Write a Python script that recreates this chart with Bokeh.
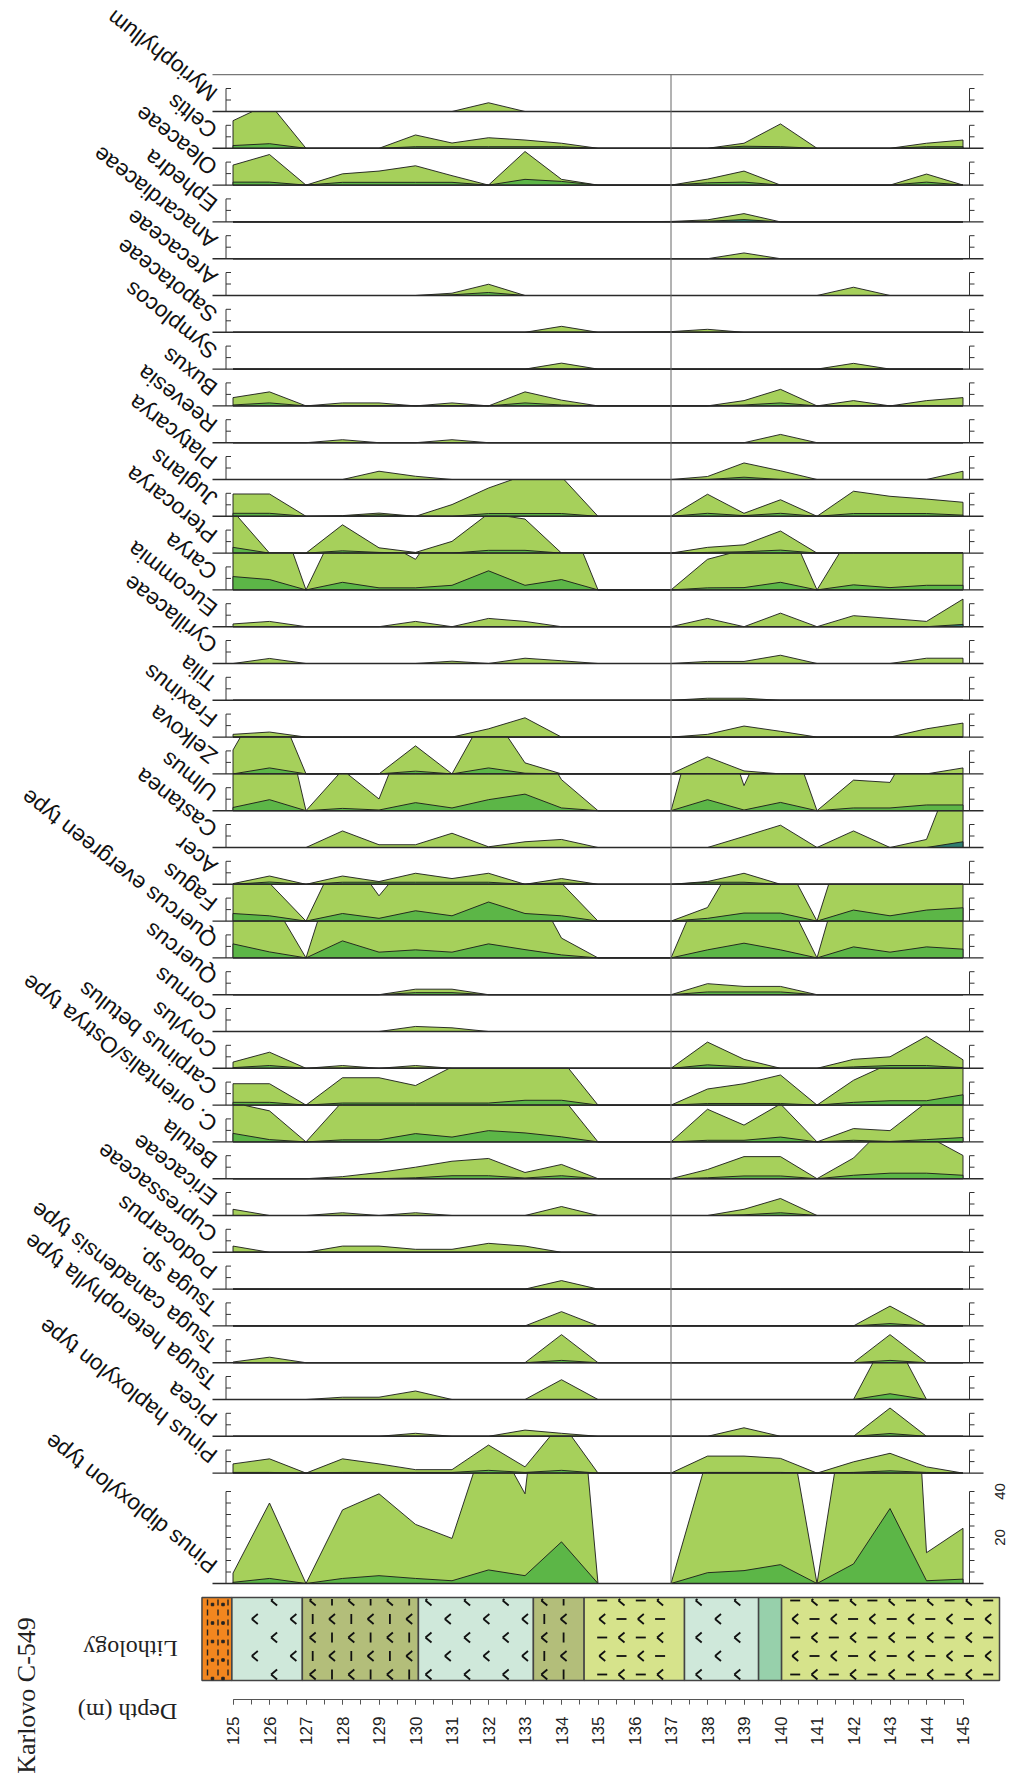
import numpy as np
from bokeh.plotting import figure
from bokeh.models import Range1d, SingleIntervalTicker, ColumnDataSource, Label
from bokeh.embed import file_html
from bokeh.resources import INLINE
from bokeh.core.properties import value

# ---------------- data ----------------
depths = [125, 126, 127, 128, 129, 130, 131, 132, 133, 134, 135,
          137, 138, 139, 140, 141, 142, 143, 144, 145]

taxa = ["Myriophyllum", "Celtis", "Oleaceae", "Ephedra", "Anacardiaceae", "Arecaceae",
        "Sapotaceae", "Symplocos", "Buxus", "Reevesia", "Platycarya", "Juglans",
        "Pterocarya", "Carya", "Eucommia", "Cyrillaceae", "Tilia", "Fraxinus", "Zelkova",
        "Ulmus", "Castanea", "Acer", "Fagus", "Quercus evergreen type", "Quercus",
        "Cornus", "Corylus", "Carpinus betulus", "C. orientalis/Ostrya type", "Betula",
        "Ericaceae", "Cupressaceae", "Podocarpus", "Tsuga sp.", "Tsuga canadensis type",
        "Tsuga heterophylla type", "Picea", "Pinus haploxylon type", "Pinus diploxylon type"]

# light = exaggerated curve, dark = percentage curve (%)
myriophyllum_light = [0, 0, 0, 0, 0, 0, 0, 3.8, 0, 0, 0, 0, 0, 0, 0, 0, 0, 0, 0, 0]
myriophyllum_dark = [0, 0, 0, 0, 0, 0, 0, 0, 0, 0, 0, 0, 0, 0, 0, 0, 0, 0, 0, 0]
celtis_light = [12.0, 19.5, 0, 0, 0, 5.8, 2.3, 4.6, 3.6, 2.2, 0, 0, 0, 2.2, 10.6, 0, 0, 0, 2.2, 3.6]
celtis_dark = [1.2, 2.0, 0, 0, 0, 0.7, 0.7, 0.7, 0.7, 0.7, 0, 0, 0, 0.9, 0.7, 0, 0, 0, 0.7, 0.7]
oleaceae_light = [8.7, 13.3, 0, 4.9, 6.1, 8.4, 4.1, 0, 14.6, 2.5, 0, 0, 2.6, 6.1, 0, 0, 0, 0, 4.8, 0]
oleaceae_dark = [1.3, 1.3, 0, 1.2, 1.2, 1.2, 1.2, 0, 2.5, 1.6, 0, 0, 1.0, 1.3, 0, 0, 0, 0, 1.3, 0]
ephedra_light = [0, 0, 0, 0, 0, 0, 0, 0, 0, 0, 0, 0.2, 0.9, 3.6, 0, 0, 0, 0, 0, 0]
ephedra_dark = [0, 0, 0, 0, 0, 0, 0, 0, 0, 0, 0, 0, 0.3, 1.0, 0, 0, 0, 0, 0, 0]
anacardiaceae_light = [0, 0, 0, 0, 0, 0, 0, 0, 0, 0, 0, 0, 0, 2.5, 0, 0, 0, 0, 0, 0]
anacardiaceae_dark = [0, 0, 0, 0, 0, 0, 0, 0, 0, 0, 0, 0, 0, 0, 0, 0, 0, 0, 0, 0]
arecaceae_light = [0, 0, 0, 0, 0, 0, 1.0, 4.9, 0, 0, 0, 0, 0, 0, 0, 0, 3.6, 0, 0, 0]
arecaceae_dark = [0, 0, 0, 0, 0, 0, 0.3, 1.3, 0, 0, 0, 0, 0, 0, 0, 0, 0, 0, 0, 0]
sapotaceae_light = [0, 0, 0, 0, 0, 0, 0, 0, 0, 2.6, 0, 0.3, 1.3, 0, 0, 0, 0, 0, 0, 0]
sapotaceae_dark = [0, 0, 0, 0, 0, 0, 0, 0, 0, 0, 0, 0, 0, 0, 0, 0, 0, 0, 0, 0]
symplocos_light = [0, 0, 0, 0, 0, 0, 0, 0, 0, 2.6, 0, 0, 0, 0, 0, 0, 2.5, 0, 0, 0]
symplocos_dark = [0, 0, 0, 0, 0, 0, 0, 0, 0, 0, 0, 0, 0, 0, 0, 0, 0, 0, 0, 0]
buxus_light = [3.6, 6.1, 0, 1.3, 1.3, 0, 1.3, 0, 6.1, 2.5, 0, 0, 0, 2.3, 7.2, 0, 2.3, 0, 2.3, 3.6]
buxus_dark = [0.4, 1.3, 0, 0, 0, 0, 0, 0, 1.3, 0.4, 0, 0, 0, 0.4, 1.3, 0, 0, 0, 0, 0]
reevesia_light = [0, 0, 0, 1.3, 0, 0, 1.3, 0, 0, 0, 0, 0, 0, 0, 3.6, 0, 0, 0, 0, 0]
reevesia_dark = [0, 0, 0, 0, 0, 0, 0, 0, 0, 0, 0, 0, 0, 0, 0, 0, 0, 0, 0, 0]
platycarya_light = [0, 0, 0, 0, 3.6, 1.4, 0, 0, 0, 0, 0, 0, 1.3, 7.2, 3.8, 0, 0, 0, 0, 3.6]
platycarya_dark = [0, 0, 0, 0, 0, 0, 0, 0, 0, 0, 0, 0, 0, 1.0, 0, 0, 0, 0, 0, 0]
juglans_light = [9.7, 9.7, 0, 0.3, 1.4, 0, 5.1, 12.3, 17.9, 17.2, 0, 0, 9.6, 1.3, 7.2, 0, 10.9, 8.7, 7.5, 6.1]
juglans_dark = [1.3, 1.3, 0, 0, 0.7, 0, 0, 1.2, 1.2, 1.2, 0, 0, 1.3, 0.3, 1.3, 0, 1.2, 1.2, 1.2, 0.5]
pterocarya_light = [18.2, 0, 0, 12.3, 2.3, 0.3, 5.1, 17.2, 14.8, 0, 0, 0, 2.5, 3.6, 9.6, 0, 0, 0, 0, 0]
pterocarya_dark = [2.5, 0, 0, 1.0, 0.3, 0, 0, 1.2, 1.2, 0, 0, 0, 0.3, 0.6, 1.3, 0, 0, 0, 0, 0]
carya_light = [25, 45, 0, 33, 22, 13.3, 36, 40, 40, 39, 0, 0, 13.3, 17.5, 36, 0, 26, 30, 30, 30]
carya_dark = [5.8, 4.5, 0, 3.3, 0.9, 0.9, 2.0, 8.3, 2.0, 4.5, 0, 0, 0.9, 1.0, 3.3, 0, 2.2, 1.0, 2.0, 2.0]
eucommia_light = [1.2, 2.3, 0, 0, 0, 2.3, 0, 3.6, 2.3, 0, 0, 0, 3.6, 0, 5.9, 0, 4.8, 3.6, 2.3, 12.0]
eucommia_dark = [0, 0, 0, 0, 0, 0, 0, 0, 0, 0, 0, 0, 0, 0, 0, 0, 0, 0, 0, 1.0]
cyrillaceae_light = [0, 2.2, 0, 0, 0, 0, 1.0, 0, 2.3, 1.2, 0, 0, 0.9, 0.9, 3.6, 0, 0, 0, 2.3, 2.3]
cyrillaceae_dark = [0, 0, 0, 0, 0, 0, 0, 0, 0, 0, 0, 0, 0, 0, 0, 0, 0, 0, 0, 0]
tilia_light = [0, 0, 0, 0, 0, 0, 0, 0, 0, 0, 0, 0, 0.9, 0.9, 0, 0, 0, 0, 0, 0]
tilia_dark = [0, 0, 0, 0, 0, 0, 0, 0, 0, 0, 0, 0, 0, 0, 0, 0, 0, 0, 0, 0]
fraxinus_light = [1.2, 2.2, 0, 0, 0, 0, 0, 3.6, 8.4, 0, 0, 0, 1.2, 4.8, 2.5, 0, 0, 0, 3.6, 6.1]
fraxinus_dark = [0, 0, 0, 0, 0, 0, 0, 0, 0, 0, 0, 0, 0, 0, 0, 0, 0, 0, 0, 0]
zelkova_light = [10.4, 38, 0, 0, 0, 12.2, 0, 28.5, 4.8, 0, 0, 0, 7.4, 1.3, 0, 0, 0, 0, 0, 2.6]
zelkova_dark = [0, 2.6, 0, 0, 0, 1.2, 0, 2.6, 0.3, 0, 0, 0, 0, 0, 0, 0, 0, 0, 0, 0]
ulmus_light = [30, 68, 0, 17.7, 5.1, 45, 40, 40, 40, 13.5, 0, 0, 58, 10.9, 45, 0, 13.3, 12.3, 40, 40]
ulmus_dark = [1.4, 4.8, 0, 1.0, 0.3, 3.5, 1.2, 4.8, 7.2, 1.2, 0, 0, 4.8, 0.3, 3.6, 0, 1.2, 1.2, 2.5, 2.5]
castanea_light = [0, 0, 0, 7.2, 1.2, 1.2, 6.2, 0.3, 2.5, 3.5, 0, 0, 0, 4.8, 9.7, 0, 7.2, 0, 3.5, 44]
castanea_dark = [0, 0, 0, 0, 0, 0, 0, 0, 0, 0, 0, 0, 0, 0, 0, 0, 0, 0, 0, 2.5]
acer_light = [0.3, 3.6, 0, 3.6, 1.2, 4.8, 2.5, 4.8, 0, 2.5, 0, 0, 1.2, 4.8, 0, 0, 0, 0, 0, 0]
acer_dark = [0, 1.0, 0, 0.9, 0.9, 0.9, 0.9, 0.9, 0, 0.7, 0, 0, 0.9, 0.9, 0, 0, 0, 0, 0, 0]
fagus_light = [20, 16.5, 0, 33, 11, 30, 30, 30, 30, 16.5, 0, 0, 5.9, 33, 30, 0, 50, 40, 40, 40]
fagus_dark = [3.3, 2.3, 0, 3.3, 1.2, 4.5, 2.3, 8.3, 3.3, 2.3, 0, 0, 1.2, 3.5, 3.5, 0, 4.8, 2.3, 4.8, 5.8]
quercus_evergreen_light = [30, 27, 0, 50, 35, 35, 35, 35, 38, 8.6, 0, 0, 37, 35, 32, 0, 55, 40, 40, 40]
quercus_evergreen_dark = [6.1, 2.6, 0, 7.4, 2.5, 3.5, 2.5, 6.1, 3.6, 1.3, 0, 0, 3.5, 6.4, 3.5, 0, 4.8, 2.5, 4.8, 3.8]
quercus_light = [0, 0, 0, 0, 0, 2.4, 2.4, 0, 0, 0, 0, 0, 4.8, 3.6, 3.6, 0, 0, 0, 0, 0]
quercus_dark = [0, 0, 0, 0, 0, 0.9, 0.9, 0, 0, 0, 0, 0, 1.2, 1.2, 1.2, 0, 0, 0, 0, 0]
cornus_light = [0, 0, 0, 0, 0, 2.2, 1.6, 0, 0, 0, 0, 0, 0, 0, 0, 0, 0, 0, 0, 0]
cornus_dark = [0, 0, 0, 0, 0, 0, 0, 0, 0, 0, 0, 0, 0, 0, 0, 0, 0, 0, 0, 0]
corylus_light = [2.7, 7.0, 0, 1.2, 0, 1.2, 0, 0, 0, 0, 0, 0, 11.4, 3.9, 0, 0, 3.9, 5.0, 13.9, 3.7]
corylus_dark = [0.3, 1.2, 0, 0, 0, 0, 0, 0, 0, 0, 0, 0, 1.5, 0.6, 0, 0, 0.6, 1.2, 1.2, 0.3]
carpinus_betulus_light = [9.3, 9.3, 0, 11.9, 11.9, 8.5, 16.6, 20, 20, 19.8, 0, 0, 7.0, 9.3, 13.1, 0, 10.8, 18.1, 20, 20]
carpinus_betulus_dark = [1.2, 1.2, 0, 0.9, 0.9, 0.9, 0.9, 0.9, 2.1, 2.1, 0, 0, 0.7, 0.7, 0.7, 0, 1.2, 1.9, 1.9, 4.5]
c_orientalis_light = [17, 13.5, 0, 17.6, 25, 25, 25, 25, 25, 19.8, 0, 0, 14.2, 7.3, 16.5, 0, 5.8, 4.9, 17.2, 18]
c_orientalis_dark = [3.7, 1.0, 0, 0.9, 0.9, 3.6, 2.1, 4.9, 3.9, 2.2, 0, 0, 0.7, 0.7, 2.1, 0, 0.7, 0.2, 1.0, 1.9]
betula_light = [0, 0, 0, 0.9, 2.7, 5.0, 7.6, 8.8, 2.7, 6.2, 0, 0, 4.0, 9.6, 9.6, 0, 9.0, 25, 18.7, 10.1]
betula_dark = [0, 0, 0, 0, 0, 0.4, 1.3, 1.3, 0.3, 1.3, 0, 0, 0.4, 1.2, 1.2, 0, 1.5, 2.4, 2.4, 1.5]
ericaceae_light = [2.7, 0, 0, 1.2, 0, 1.2, 0, 0, 0, 3.9, 0, 0, 0, 2.7, 7.4, 0, 0, 0, 0, 0]
ericaceae_dark = [0, 0, 0, 0, 0, 0, 0, 0, 0, 0, 0, 0, 0, 0.3, 1.2, 0, 0, 0, 0, 0]
cupressaceae_light = [2.7, 0, 0, 2.7, 2.7, 1.3, 1.3, 3.9, 2.7, 0, 0, 0, 0, 0, 0, 0, 0, 0, 0, 0]
cupressaceae_dark = [0, 0, 0, 0, 0, 0, 0, 0, 0, 0, 0, 0, 0, 0, 0, 0, 0, 0, 0, 0]
podocarpus_light = [0, 0, 0, 0, 0, 0, 0, 0, 0, 3.7, 0, 0, 0, 0, 0, 0, 0, 0, 0, 0]
podocarpus_dark = [0, 0, 0, 0, 0, 0, 0, 0, 0, 0, 0, 0, 0, 0, 0, 0, 0, 0, 0, 0]
tsuga_sp_light = [0, 0, 0, 0, 0, 0, 0, 0, 0, 6.2, 0, 0, 0, 0, 0, 0, 0, 8.6, 0, 0]
tsuga_sp_dark = [0, 0, 0, 0, 0, 0, 0, 0, 0, 0, 0, 0, 0, 0, 0, 0, 0, 1.0, 0, 0]
tsuga_canadensis_light = [0.3, 2.4, 0, 0, 0, 0, 0, 0, 0, 12.2, 0, 0, 0, 0, 0, 0, 0, 12.2, 0, 0]
tsuga_canadensis_dark = [0, 0, 0, 0, 0, 0, 0, 0, 0, 1.0, 0, 0, 0, 0, 0, 0, 0, 1.0, 0, 0]
tsuga_heterophylla_light = [0, 0, 0, 1.0, 1.0, 3.7, 0, 0, 0, 8.6, 0, 0, 0, 0, 0, 0, 0, 30, 0, 0]
tsuga_heterophylla_dark = [0, 0, 0, 0, 0, 0, 0, 0, 0, 0, 0, 0, 0, 0, 0, 0, 0, 2.5, 0, 0]
picea_light = [0, 0, 0, 0, 0, 1.3, 0, 0, 2.7, 1.3, 0, 0, 0, 3.7, 0, 0, 0, 12.3, 0, 0]
picea_dark = [0, 0, 0, 0, 0, 0, 0, 0, 0, 0, 0, 0, 0, 0, 0, 0, 0, 1.2, 0, 0]
pinus_haploxylon_light = [4.0, 6.2, 0, 6.2, 4.0, 1.5, 1.5, 12.2, 2.7, 22, 0, 0, 7.4, 7.4, 6.4, 0, 4.9, 8.6, 2.7, 0]
pinus_haploxylon_dark = [0.3, 0.3, 0, 0.3, 0.3, 0.3, 0.3, 1.2, 0.3, 1.2, 0, 0, 0.3, 0.3, 0.3, 0, 0.3, 1.0, 0.3, 0]
pinus_diploxylon_light = [4.5, 35, 0, 32, 39, 25.7, 19.6, 68, 39, 176, 0, 0, 55, 70, 90, 0, 100, 280, 13.4, 24.0]
pinus_diploxylon_dark = [0.5, 2.2, 0, 2.2, 3.4, 2.2, 1.2, 5.9, 3.4, 18.1, 0, 0, 4.7, 5.6, 8.2, 0, 8.5, 32.6, 1.2, 1.9]

light_series = [myriophyllum_light, celtis_light, oleaceae_light, ephedra_light, anacardiaceae_light,
                arecaceae_light, sapotaceae_light, symplocos_light, buxus_light, reevesia_light,
                platycarya_light, juglans_light, pterocarya_light, carya_light, eucommia_light,
                cyrillaceae_light, tilia_light, fraxinus_light, zelkova_light, ulmus_light,
                castanea_light, acer_light, fagus_light, quercus_evergreen_light, quercus_light,
                cornus_light, corylus_light, carpinus_betulus_light, c_orientalis_light, betula_light,
                ericaceae_light, cupressaceae_light, podocarpus_light, tsuga_sp_light,
                tsuga_canadensis_light, tsuga_heterophylla_light, picea_light,
                pinus_haploxylon_light, pinus_diploxylon_light]
dark_series = [myriophyllum_dark, celtis_dark, oleaceae_dark, ephedra_dark, anacardiaceae_dark,
               arecaceae_dark, sapotaceae_dark, symplocos_dark, buxus_dark, reevesia_dark,
               platycarya_dark, juglans_dark, pterocarya_dark, carya_dark, eucommia_dark,
               cyrillaceae_dark, tilia_dark, fraxinus_dark, zelkova_dark, ulmus_dark,
               castanea_dark, acer_dark, fagus_dark, quercus_evergreen_dark, quercus_dark,
               cornus_dark, corylus_dark, carpinus_betulus_dark, c_orientalis_dark, betula_dark,
               ericaceae_dark, cupressaceae_dark, podocarpus_dark, tsuga_sp_dark,
               tsuga_canadensis_dark, tsuga_heterophylla_dark, picea_dark,
               pinus_haploxylon_dark, pinus_diploxylon_dark]
teal_dark_taxa = ["Ephedra", "Eucommia", "Castanea"]

# lithology units (depth boundaries, m)
lith_bounds = [124.15, 124.97, 126.9, 130.08, 133.23, 134.62, 137.37, 139.4, 140.03, 146.0]
lith_kind = ["orange", "teal", "olive", "teal", "olive", "yellow", "teal", "green", "yellow"]
lith_colors = {"orange": "#f2861f", "teal": "#cfe8da", "olive": "#b3be7a",
               "yellow": "#d6e38b", "green": "#97d0ab"}

LIGHT = "#a6d05b"
DARK = "#5cb647"
TEAL = "#2e7e70"

# ---------------- layout helpers (page px -> data) ----------------
def dx(px):
    return 125 + (px - 232.5) / 36.5

def dy(py):
    return (1583 - py) / 2.3

W, H = 1009, 1779
p = figure(width=W, height=H, x_range=Range1d(dx(0), dx(W)),
           y_range=Range1d(dy(H), dy(0)),
           output_backend="svg", toolbar_location=None, title=None,
           y_axis_location=None, x_axis_location="below",
           min_border_left=0, min_border_right=0, min_border_top=0, min_border_bottom=0)
p.grid.visible = False
p.outline_line_color = None
p.background_fill_color = "white"
p.border_fill_color = "white"

n = len(taxa)
base = [640 - 16 * k for k in range(n - 1)] + [0]
cap = [16] * (n - 1) + [48]


def clip_curve(xs, ys, c):
    ox, oy = [xs[0]], [min(ys[0], c)]
    for i in range(1, len(xs)):
        x0, y0, x1, y1 = xs[i - 1], ys[i - 1], xs[i], ys[i]
        if (y0 - c) * (y1 - c) < 0:
            t = (c - y0) / (y1 - y0)
            ox.append(x0 + t * (x1 - x0))
            oy.append(c)
        ox.append(x1)
        oy.append(min(y1, c))
    return ox, oy


pxs, pys, pcol = [], [], []
for k in range(n):
    for ser, col in ((light_series[k], LIGHT),
                     (dark_series[k], TEAL if taxa[k] in teal_dark_taxa else DARK)):
        ox, oy = clip_curve(depths, ser, cap[k])
        pxs.append([depths[0]] + ox + [depths[-1]])
        pys.append([base[k]] + [v + base[k] for v in oy] + [base[k]])
        pcol.append(col)
p.patches(pxs, pys, fill_color=pcol, line_color="#1a1a1a", line_width=0.9)

# baselines, top line, section divider
p.segment(x0=[dx(212)] * n, y0=base, x1=[dx(983)] * n, y1=base, line_color="#2a2a2a", line_width=1.4)
p.segment(x0=[dx(212)], y0=[656], x1=[dx(983)], y1=[656], line_color="#777", line_width=1.2)
p.segment(x0=[137], y0=[0], x1=[137], y1=[656], line_color="#666", line_width=1)

# mini axes per panel
axl, axl_t, axr, axr_t = dx(225.5), dx(230.5), dx(969), dx(974)
sx0, sy0, sx1, sy1 = [], [], [], []
for k in range(n):
    top = 10 if k < n - 1 else 40
    for a in (axl, axr):
        sx0.append(a); sy0.append(base[k]); sx1.append(a); sy1.append(base[k] + top)
    for t in range(5, top + 1, 5):
        sx0 += [axl, axr]; sy0 += [base[k] + t] * 2
        sx1 += [axl_t, axr_t]; sy1 += [base[k] + t] * 2
p.segment(x0=sx0, y0=sy0, x1=sx1, y1=sy1, line_color="#333", line_width=1)

for v in (20, 40):
    p.add_layout(Label(x=dx(999), y=v, text=str(v), angle=np.pi / 2, text_align="center",
                       text_baseline="middle", text_font="Liberation Sans",
                       text_font_size="15px", text_color="#222"))

# taxon labels
lab = ColumnDataSource(dict(x=[dx(214)] * n, y=[b + 15 / 2.3 for b in base], t=taxa))
p.text(x="x", y="y", text="t", source=lab, angle=142, angle_units="deg",
       text_align="left", text_baseline="alphabetic",
       text_font=value("Liberation Sans"), text_font_size="22.5px", text_color="#111")

# lithology
ltop, lbot = dy(1597), dy(1680)
p.quad(left=lith_bounds[:-1], right=lith_bounds[1:], top=ltop, bottom=lbot,
       fill_color=[lith_colors[k] for k in lith_kind], line_color="#444", line_width=1.5)

rows = [1600, 1618.5, 1637, 1655.5, 1674]
mx0, my0, mx1, my1 = [], [], [], []


def add_seg(a, b, c, d):
    # page coords, clipped to lithology interior vertically
    if b < 1598.5 and d < 1598.5:
        return
    if b < 1598.5:
        t = (1598.5 - b) / (d - b); a = a + t * (c - a); b = 1598.5
    if d < 1598.5:
        t = (1598.5 - d) / (b - d); c = c + t * (a - c); d = 1598.5
    mx0.append(dx(a)); my0.append(dy(b)); mx1.append(dx(c)); my1.append(dy(d))


for i, kind in enumerate(lith_kind):
    l_px = 232.5 + (lith_bounds[i] - 125) * 36.5
    r_px = 232.5 + (lith_bounds[i + 1] - 125) * 36.5
    if kind == "orange":
        for xo in (207, 217.5, 227.5):
            p.segment(x0=[dx(xo)], y0=[dy(1599)], x1=[dx(xo)], y1=[dy(1679)],
                      line_color="#222", line_width=1.4, line_dash="6 4")
        for xo in (212, 222.5):
            p.scatter(x=[dx(xo)] * 5, y=[dy(r + 4) for r in rows], size=2.5,
                      marker="square", color="#222")
        continue
    if kind == "green":
        continue
    for r, yy in enumerate(rows):
        for j in range(60):
            xx = 235 + 19.3 * j
            if xx - 5 < l_px + 2 or xx + 5 > r_px - 2:
                continue
            if (r + j) % 2 == 0:
                add_seg(xx + 3, yy - 5, xx - 3, yy)
                add_seg(xx - 3, yy, xx + 3, yy + 5)
            elif kind == "olive":
                add_seg(xx, yy - 5, xx, yy + 5)
            elif kind == "yellow":
                add_seg(xx - 5, yy, xx + 5, yy)
p.segment(x0=mx0, y0=my0, x1=mx1, y1=my1, line_color="#111", line_width=1.8)

# depth axis (drawn at a fixed data location just below the lithology column)
ax = p.xaxis[0]
ax.fixed_location = dy(1699)
ax.ticker = SingleIntervalTicker(interval=1, num_minor_ticks=2)
ax.bounds = (125, 145)
ax.major_label_orientation = np.pi / 2
ax.major_tick_in = 0
ax.major_tick_out = 5
ax.minor_tick_in = 0
ax.minor_tick_out = 5
ax.major_label_standoff = 12
ax.major_label_text_font = "Liberation Sans Narrow, Liberation Sans"
ax.major_label_text_font_size = "17px"
ax.major_label_text_color = "#222"
ax.axis_line_color = "#555"
ax.major_tick_line_color = "#555"
ax.minor_tick_line_color = "#555"

# left titles
p.add_layout(Label(x=dx(26), y=dy(1695), text="Karlovo C-549", angle=np.pi / 2,
                   text_align="center", text_baseline="middle", text_font="Liberation Serif",
                   text_font_size="26px", text_color="#222"))
p.add_layout(Label(x=dx(130), y=dy(1648), text="Lithology", angle=np.pi,
                   text_align="center", text_baseline="middle", text_font="Liberation Serif",
                   text_font_size="24px", text_color="#222"))
p.add_layout(Label(x=dx(127), y=dy(1711), text="Depth (m)", angle=np.pi,
                   text_align="center", text_baseline="middle", text_font="Liberation Serif",
                   text_font_size="24px", text_color="#222"))

open("out.html", "w").write(file_html(p, INLINE))
